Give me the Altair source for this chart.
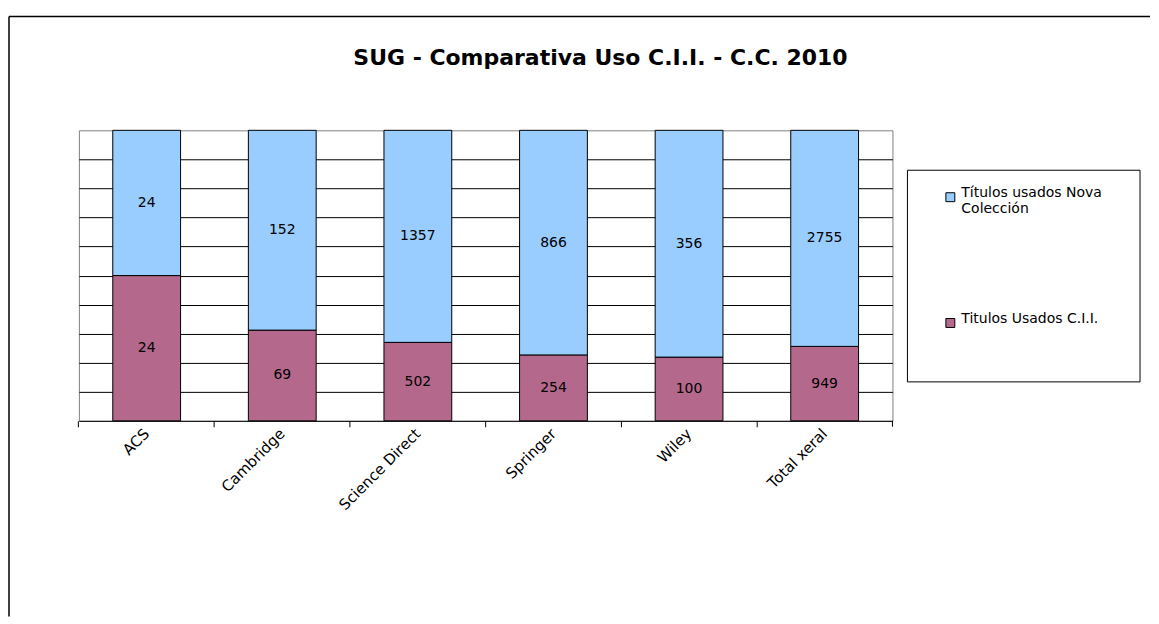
import altair as alt
import pandas as pd

categories = ["ACS", "Cambridge", "Science Direct", "Springer", "Wiley", "Total xeral"]
usados_cii = [24, 69, 502, 254, 100, 949]
usados_nova = [24, 152, 1357, 866, 356, 2755]
series_names = ["Títulos usados Nova Colección", "Titulos Usados C.I.I."]
series_colors = ["#99CCFF", "#B4698C"]
title_text = "SUG - Comparativa Uso C.I.I. - C.C. 2010"
grid_values = [0.1, 0.2, 0.3, 0.4, 0.5, 0.6, 0.7, 0.8, 0.9]

rows = []
for c, a, b in zip(categories, usados_cii, usados_nova):
    rows.append({"cat": c, "serie": series_names[1], "value": a, "ord": 0})
    rows.append({"cat": c, "serie": series_names[0], "value": b, "ord": 1})
df = pd.DataFrame(rows)

FONT = "DejaVu Sans"

base = alt.Chart(df).transform_stack(
    stack="value", groupby=["cat"], as_=["y0", "y1"], offset="normalize",
    sort=[alt.SortField("ord", order="ascending")]
).transform_calculate(mid="(datum.y0 + datum.y1) / 2")

xscale = alt.Scale(paddingInner=0.5, paddingOuter=0.25)
yscale = alt.Scale(domain=[0, 1], nice=False)

xaxis = alt.Axis(labelAngle=-45, labelAlign="right", labelBaseline="middle",
                 labelPadding=4, labelFontSize=15, labelFont=FONT, labelColor="black",
                 domainColor="black", tickColor="black", tickSize=6,
                 bandPosition=-0.5, labelBound=False, labelOverlap=False,
                 labelLimit=300)
yaxis = alt.Axis(values=grid_values, grid=True, gridColor="black", gridWidth=1,
                 gridOpacity=1, labels=False, ticks=False, domain=False,
                 labelOverlap=False)

bars = base.mark_bar(stroke="black", strokeWidth=1).encode(
    x=alt.X("cat:N", sort=categories, title=None, scale=xscale, axis=xaxis),
    y=alt.Y("y0:Q", scale=yscale, title=None, axis=yaxis),
    y2="y1:Q",
    color=alt.Color("serie:N", scale=alt.Scale(domain=series_names, range=series_colors),
                    legend=alt.Legend(title=None, orient="none", legendX=866, legendY=60,
                                      symbolType="square", symbolSize=80,
                                      symbolStrokeColor="black", symbolStrokeWidth=1,
                                      labelFont=FONT, labelFontSize=14, labelColor="black",
                                      labelBaseline="alphabetic", labelLimit=300,
                                      rowPadding=96, padding=0,
                                      labelExpr="datum.label == 'Títulos usados Nova Colección' ? ['Títulos usados Nova', 'Colección'] : datum.label")),
    order=alt.Order("ord:Q"),
)

texts = base.mark_text(font=FONT, fontSize=14, color="black").encode(
    x=alt.X("cat:N", sort=categories, title=None, scale=xscale, axis=xaxis),
    y=alt.Y("mid:Q", scale=yscale, title=None, axis=yaxis),
    text=alt.Text("value:Q"),
)

one = alt.Data(values=[{"k": 1}])
legend_box = alt.Chart(one).mark_rect(fill="white", stroke="black", strokeWidth=1).encode(
    x=alt.value(830), x2=alt.value(1063), y=alt.value(40), y2=alt.value(252))
frame_top = alt.Chart(one).mark_rule(color="black", strokeWidth=1.5).encode(
    x=alt.value(-70), x2=alt.value(1073), y=alt.value(-114))
frame_left = alt.Chart(one).mark_rule(color="black", strokeWidth=1.5).encode(
    x=alt.value(-70), y=alt.value(-114), y2=alt.value(487))
end_tick = alt.Chart(one).mark_rule(color="black", strokeWidth=1).encode(
    x=alt.value(815), y=alt.value(291), y2=alt.value(297))

chart = alt.layer(frame_top, frame_left, legend_box, bars, texts, end_tick).properties(
    width=815, height=291,
    background="white",
    padding={"left": 0, "top": 7, "right": 0, "bottom": 0},
    title=alt.TitleParams(title_text, font=FONT, fontSize=22, fontWeight="bold",
                          color="black", anchor="middle", dx=115, offset=-54),
).configure_view(stroke="#808080", strokeWidth=1)

chart.save("out.html", embed_options={"renderer": "svg", "actions": False})
